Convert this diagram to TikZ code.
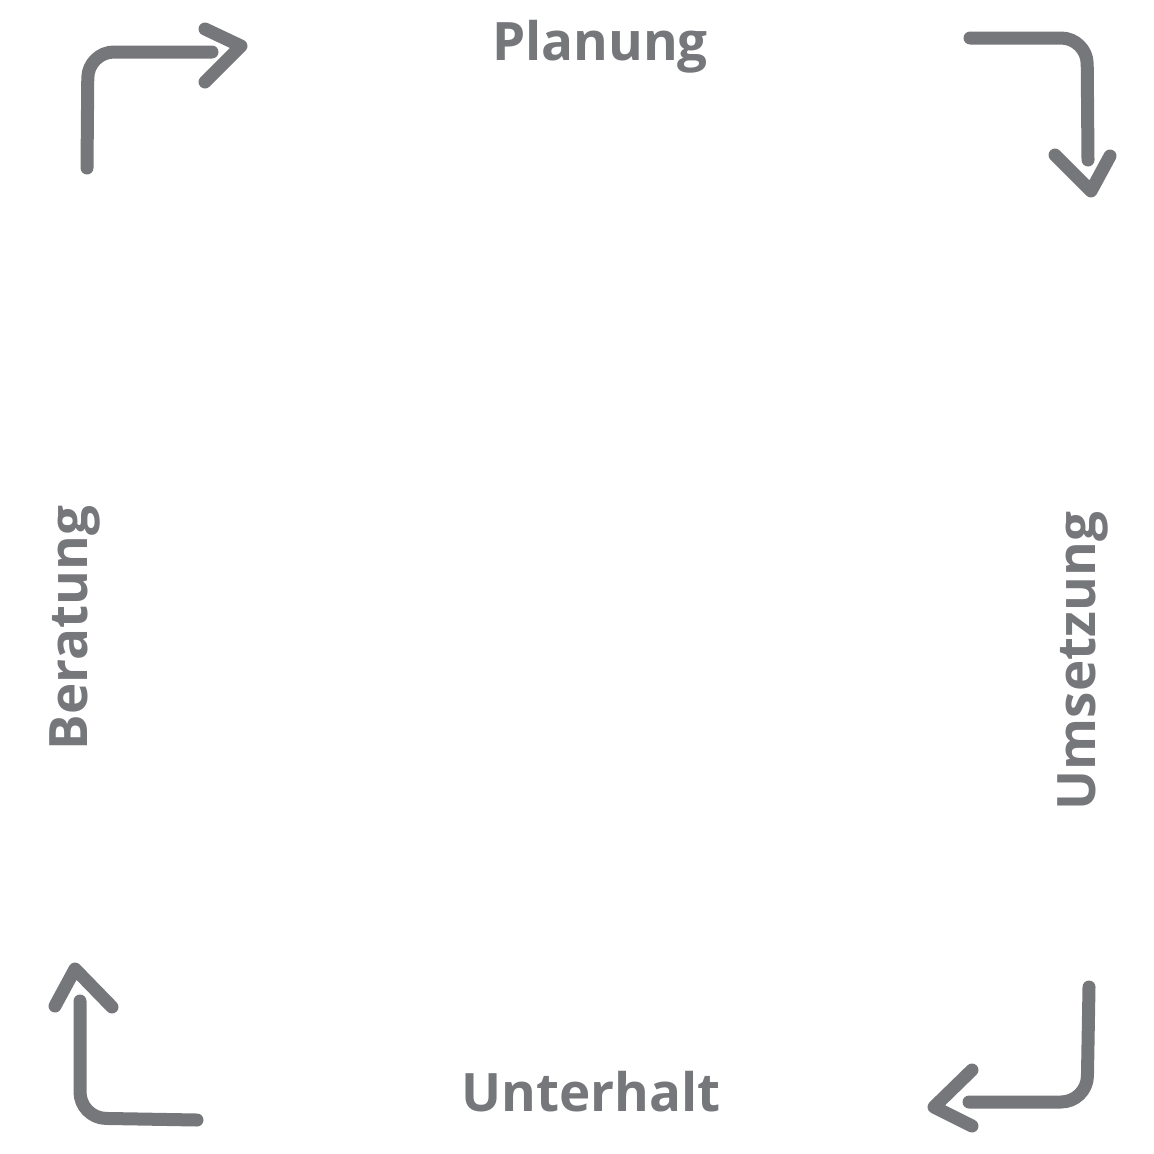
\documentclass[tikz,border=0pt]{standalone}
\usepackage{fontspec}
\setmainfont{Open Sans}
\definecolor{ink}{HTML}{76777B}
\tikzset{
  lbl/.style={text=ink, font=\fontsize{53}{60}\selectfont\bfseries, inner sep=0pt},
  stroke/.style={draw=ink, line width=13pt, line cap=round, line join=round, rounded corners=26pt},
  head/.style={draw=ink, line width=13pt, line cap=round, line join=round}
}
\begin{document}
\begin{tikzpicture}[x=1pt,y=-1pt]
\useasboundingbox (0,0) rectangle (1154,1154);
% labels
\node[lbl] (plan) at (600,47) {Planung};
\node[lbl] (unt) at (591,1092) {Unterhalt};
\node[lbl, rotate=90] (ber) at (75,628) {Beratung};
\node[lbl, rotate=90] (ums) at (1083,661) {Umsetzung};
% top-left arrow
\coordinate (a1s) at (87,168);
\coordinate (a1c) at (88,52);
\coordinate (a1e) at (212,52);
\coordinate (a1t) at (241,46);
\draw[stroke] (a1s) -- (a1c) -- (a1e);
\draw[head] (205,29) -- (a1t) -- (205,82);
% top-right arrow
\coordinate (a2s) at (970,38);
\coordinate (a2c) at (1087,38);
\coordinate (a2e) at (1088,160);
\coordinate (a2t) at (1091,191);
\draw[stroke] (a2s) -- (a2c) -- (a2e);
\draw[head] (1055,155) -- (a2t) -- (1110,156);
% bottom-right arrow
\coordinate (a3s) at (1089,987);
\coordinate (a3c) at (1087,1102);
\coordinate (a3e) at (969,1102);
\coordinate (a3t) at (934,1107);
\draw[stroke] (a3s) -- (a3c) -- (a3e);
\draw[head] (972,1070) -- (a3t) -- (972,1126);
% bottom-left arrow
\coordinate (a4s) at (197,1120);
\coordinate (a4c) at (80,1118);
\coordinate (a4e) at (80,1001);
\coordinate (a4t) at (75,969);
\draw[stroke] (a4s) -- (a4c) -- (a4e);
\draw[head] (55,1006) -- (a4t) -- (112,1007);
\end{tikzpicture}
\end{document}
